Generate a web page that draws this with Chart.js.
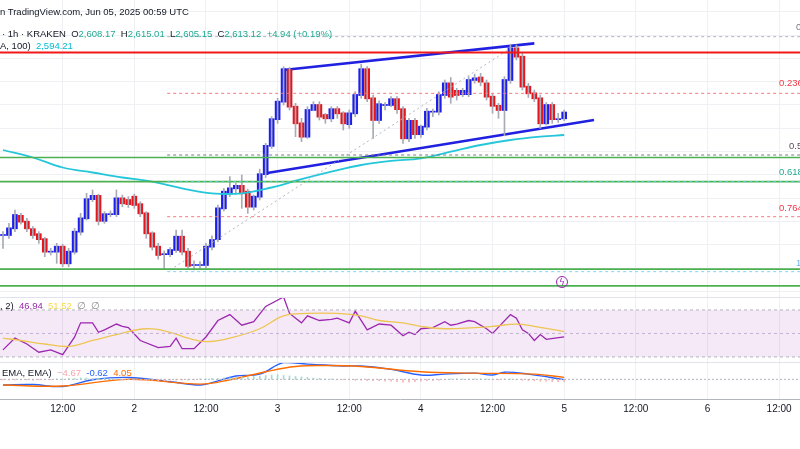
<!DOCTYPE html>
<html><head><meta charset="utf-8">
<script src="https://cdn.jsdelivr.net/npm/chart.js@4.4.1/dist/chart.umd.min.js"></script>
<style>
body{margin:0;background:#fff;width:800px;height:449px;overflow:hidden;position:relative;font-family:"Liberation Sans",Arial,sans-serif;}
.pane{position:absolute;left:0;width:800px;}
.t{position:absolute;white-space:pre;font-size:9.5px;color:#131722;line-height:12px;}
.sep{position:absolute;left:0;width:800px;height:1px;background:#e0e3eb;}
</style></head><body>
<div class="pane" style="top:0;height:297px"><canvas id="main"></canvas></div>
<div class="pane" style="top:297px;height:65px"><canvas id="rsi"></canvas></div>
<div class="pane" style="top:362px;height:60px"><canvas id="macd"></canvas></div>
<div class="sep" style="top:297px"></div>
<div class="sep" style="top:362px"></div>

<div class="t" style="left:0;top:6px">n TradingView.com, Jun 05, 2025 00:59 UTC</div>
<div class="t" style="left:2px;top:28px">· 1h · KRAKEN  O<span style="color:#22ab94">2,608.17</span>  H<span style="color:#22ab94">2,615.01</span>  L<span style="color:#22ab94">2,605.15</span>  C<span style="color:#22ab94">2,613.12</span>  <span style="color:#22ab94">+4.94 (+0.19%)</span></div>
<div class="t" style="left:0;top:40px">A, 100)  <span style="color:#00bcd4">2,594.21</span></div>
<div class="t" style="left:0;top:300px">, 2)  <span style="color:#9c27b0">46.94</span>  <span style="color:#f7d749">51.52</span>  <span style="color:#888">∅  ∅</span></div>
<div class="t" style="left:2px;top:367px">EMA, EMA)  <span style="color:#f7a6ad">−4.67</span>  <span style="color:#2962ff">-0.62</span>  <span style="color:#ff6d00">4.05</span></div>
<div class="t" style="left:796px;top:21px;color:#787b86">0</div>
<div class="t" style="left:779px;top:77px;color:#f23645">0.236</div>
<div class="t" style="left:789px;top:140px;color:#5d4b5f">0.5</div>
<div class="t" style="left:779px;top:166px;color:#22ab94">0.618</div>
<div class="t" style="left:779px;top:202px;color:#f23645">0.764</div>
<div class="t" style="left:796px;top:257px;color:#64b5f6">1</div>
<div style="position:absolute;left:556px;top:276px;width:12px;height:12px;border:1.5px solid #9c27b0;border-radius:50%;box-sizing:border-box;color:#9c27b0;font-size:9px;line-height:10px;text-align:center;font-family:'DejaVu Sans'">ϟ</div>

<script>
// ---------- data ----------
const OPEN=[2466,2466,2474,2489,2482,2473,2467,2461,2446,2446,
2452,2432,2446,2470,2486,2509,2513,2483,2491,2491,
2510,2508,2512,2503,2492,2468,2452,2443,2443,2448,
2464,2446,2430,2430,2430,2452,2461,2498,2516,2522,
2525,2518,2500,2512,2539,2573,2605,2626,2664,2620,
2600,2584,2616,2622,2610,2606,2617,2612,2599,2612,
2634,2665,2630,2604,2622,2622,2629,2617,2582,2603,
2587,2596,2614,2614,2634,2648,2639,2635,2635,2652,
2655,2648,2632,2621,2616,2652,2690,2680,2644,2636,
2630,2600,2622,2605,2606];
const CLOSE=[2466,2474,2490,2482,2474,2466,2461,2446,2446,2452,
2432,2446,2470,2486,2509,2513,2483,2491,2491,2510,
2504,2503,2502,2492,2468,2452,2442,2443,2448,2464,
2446,2429,2430,2430,2452,2460,2498,2518,2522,2525,
2516,2500,2512,2539,2573,2605,2626,2665,2620,2600,
2584,2616,2622,2608,2606,2617,2612,2600,2612,2634,
2665,2630,2604,2623,2622,2629,2617,2582,2603,2587,
2596,2614,2614,2634,2648,2632,2634,2639,2652,2654,
2650,2632,2621,2616,2652,2690,2680,2644,2636,2630,
2600,2622,2605,2605,2613];
const HIGH=[2470,2480,2496,2492,2486,2476,2470,2463,2450,2456,
2455,2450,2474,2492,2516,2520,2515,2494,2495,2520,
2514,2512,2515,2506,2494,2470,2456,2447,2451,2472,
2472,2450,2435,2434,2456,2465,2502,2522,2536,2528,
2538,2521,2514,2545,2576,2608,2630,2668,2667,2624,
2606,2620,2626,2626,2612,2620,2620,2614,2616,2638,
2671,2668,2634,2627,2625,2632,2632,2620,2606,2606,
2598,2618,2617,2638,2652,2655,2642,2642,2656,2659,
2660,2652,2636,2624,2656,2694,2694,2684,2648,2640,
2634,2625,2625,2612,2616];
const LOW=[2450,2462,2470,2479,2470,2462,2456,2440,2442,2432,
2428,2428,2443,2466,2484,2506,2478,2480,2488,2488,
2500,2499,2498,2488,2462,2448,2437,2425,2440,2445,
2442,2425,2424,2425,2426,2448,2458,2495,2512,2515,
2498,2492,2496,2508,2535,2570,2600,2622,2616,2584,
2578,2582,2615,2604,2600,2602,2606,2592,2594,2608,
2630,2626,2582,2600,2616,2620,2612,2576,2578,2582,
2583,2592,2608,2610,2630,2624,2628,2632,2632,2648,
2645,2628,2612,2606,2585,2648,2676,2640,2631,2626,
2594,2598,2600,2601,2603];
const MA_IDX=[0,5,10,15,20,25,30,35,40,45,50,55,60,65,70,75,80,85,90,94];
const MA_VAL=[2568,2559,2547,2541,2535,2530,2522,2516,2516,2523,2533,2542,2550,2555,2558,2566,2574,2580,2584,2586];
const RSI_IDX=[0,2,4,6,8,10,12,13,15,16,17,19,20,21,23,26,28,29,30,32,34,36,38,40,42,44,47,48,50,51,53,55,56,58,59,61,63,65,67,68,69,70,72,74,75,76,78,79,81,82,85,86,87,88,89,90,91,94];
const RSI_VAL=[36,46,41,34,36,32,47,59,59,51,53,58,56,55,44,38,39,46,37,37,47,61,66,57,60,73,81,67,59,65,61,62,63,59,69,53,58,57,48,51,49,54,55,60,57,58,61,60,54,50,66,63,53,50,44,49,45,47];
const RSIMA_IDX=[0,3,7,11,15,19,24,28,31,34,38,43,47,51,56,60,63,67,70,74,79,82,86,89,94];
const RSIMA_VAL=[46,44,41,39,44,49,54,51,46,43,46,54,65,67,67,65,61,59,56,54,55,56,58,56,51.5];
const MACD_IDX=[0,5,10,15,21,28,33,35,39,43,47,51,54,57,60,65,70,74,79,82,84,88,94];
const MACD_VAL=[-12,-11,-15,-1,4,-5,-12,-7,7,11,35,32,30,28,28,21,9,11,13,9,15,11,-0.6];
const SIG_IDX=[0,10,21,33,38,44,49,54,60,70,79,89,94];
const SIG_VAL=[-12,-14,0,-10,-1,16,27,29,27,16,13,11,4];
const HIST=[-1,-1,-1,-1,-1,-2,-1,-1,-1,1,1,2,2,3,3,2,2,2,1,1,
-1,-1,-1,-2,-2,-2,-3,-3,-2,-2,-2,-2,-1,1,1,2,2,3,3,4,
5,5,6,7,8,9,10,8,7,6,5,4,3,2,1,1,-1,-1,-1,-2,
-2,-3,-3,-3,-4,-4,-5,-6,-6,-5,-4,-3,-3,-2,-1,1,1,1,1,1,
1,1,-1,-1,1,1,-1,-2,-3,-3,-4,-4,-5,-5,-5];
const FIB=[2704,2636,2562,2530,2488,2422];
const FIB_COL=['#b2b5be','#f77c80','#787b86','#4dd0e1','#f77c80','#81d4fa'];
const GREEN_LV=[2559,2530,2425,2405];
const RED_LV=2685;
const UPPER=[[47,2664],[89,2696]];
const LOWER=[[44,2540],[99,2604]];
const DIAG=[[28,2424],[85,2690]];
const TIME_POS=[10,22,34,46,58,70,82,94,106,118,130];
const TIME_LBL=['12:00','2','12:00','3','12:00','4','12:00','5','12:00','6','12:00'];
const GRID_PRICE=[2398,2426,2454,2482,2510,2538,2566,2594,2622,2650,2678,2706,2734];

// ---------- helpers ----------
const BLUE='#1c1ef0', RED='#e3161e', GRID='#eef0f4';
const N=OPEN.length;
const pts=(ix,v)=>ix.map((x,i)=>({x,y:v[i]}));
const hline=(y,x0,x1)=>[{x:x0,y},{x:x1,y}];
const xScale=(showTicks)=>({type:'linear',min:-0.5,max:133.5,offset:false,
  afterBuildTicks:s=>{s.ticks=TIME_POS.map(v=>({value:v}));},
  ticks:{display:showTicks,callback:(v)=>TIME_LBL[TIME_POS.indexOf(v)],color:'#131722',font:{size:10,family:'Liberation Sans'},maxRotation:0,padding:4},
  grid:{color:GRID,drawTicks:false,offset:false},border:{display:false},
  afterFit:s=>{s.height=showTicks?23:0;}});
const yHidden=(min,max,gridVals)=>({min,max,
  afterBuildTicks:s=>{s.ticks=(gridVals||[]).map(v=>({value:v}));},
  ticks:{display:false},grid:{color:GRID,drawTicks:false,display:!!gridVals},border:{display:false},
  afterFit:s=>{s.width=0;}});
const lineDs=(data,color,w,dash,extra)=>Object.assign({type:'line',data,borderColor:color,borderWidth:w,borderDash:dash||[],pointRadius:0,fill:false,tension:0},extra||{});
const common={responsive:true,maintainAspectRatio:false,animation:false,
  layout:{padding:0},plugins:{legend:{display:false},tooltip:{enabled:false}}};

// ---------- main ----------
const idx=[...Array(N).keys()];
const colors=idx.map(i=>CLOSE[i]>=OPEN[i]?BLUE:RED);
const mainDs=[];
FIB.forEach((p,i)=>mainDs.push(lineDs(hline(p,27.5,133.5),FIB_COL[i],1,[3,3])));
GREEN_LV.forEach(p=>mainDs.push(lineDs(hline(p,-0.5,133.5),'#4caf50',1.6)));
mainDs.push(lineDs(hline(RED_LV,-0.5,133.5),'#f21818',1.8));
mainDs.push(lineDs(DIAG.map(a=>({x:a[0],y:a[1]})),'#b2b5be',1,[2,3]));
mainDs.push(lineDs(pts(MA_IDX,MA_VAL),'#26c6da',1.8,[],{tension:0.4}));
mainDs.push({type:'bar',grouped:false,data:idx.map(i=>({x:i,y:[LOW[i],HIGH[i]]})),backgroundColor:'#a8abb5',barThickness:1});
mainDs.push({type:'bar',grouped:false,data:idx.map(i=>({x:i,y:[Math.min(OPEN[i],CLOSE[i])-0.6,Math.max(OPEN[i],CLOSE[i])+0.6]})),backgroundColor:colors,barThickness:5});
mainDs.push(lineDs(UPPER.map(a=>({x:a[0],y:a[1]})),'#2020e0',2.6));
mainDs.push(lineDs(LOWER.map(a=>({x:a[0],y:a[1]})),'#2020e0',2.6));
new Chart(document.getElementById('main'),{type:'bar',data:{datasets:mainDs},
  options:Object.assign({},common,{scales:{x:xScale(false),y:yHidden(2391.6,2748,GRID_PRICE)}})});

// ---------- RSI ----------
const rsiDs=[
  lineDs(hline(70,-0.5,133.5),'#b2b5be',1,[3,3]),
  lineDs(hline(30,-0.5,133.5),'#b2b5be',1,[3,3],{fill:{target:0},backgroundColor:'rgba(156,39,176,0.10)'}),
  lineDs(hline(50,-0.5,133.5),'#c8c2d6',1,[3,3]),
  lineDs(pts(RSIMA_IDX,RSIMA_VAL),'#f7d749',1.3,[],{tension:0.4}),
  lineDs(pts(RSI_IDX,RSI_VAL),'#9c27b0',1.3)
];
new Chart(document.getElementById('rsi'),{type:'line',data:{datasets:rsiDs},
  options:Object.assign({},common,{scales:{x:xScale(false),y:yHidden(25.7,81)}})});

// ---------- MACD ----------
const macdDs=[
  lineDs(hline(0,-0.5,133.5),'#b2b5be',1,[2,2]),
  {type:'bar',grouped:false,data:idx.map(i=>({x:i,y:HIST[i]})),backgroundColor:idx.map(i=>HIST[i]>=0?'#a5dccf':'#f7b5b9'),barThickness:1},
  lineDs(pts(SIG_IDX,SIG_VAL),'#ff6d00',1.4,[],{tension:0.4}),
  lineDs(pts(MACD_IDX,MACD_VAL),'#2962ff',1.4,[],{tension:0.4})
];
new Chart(document.getElementById('macd'),{type:'bar',data:{datasets:macdDs},
  options:Object.assign({},common,{scales:{x:Object.assign(xScale(true),{border:{display:true,color:'#b2b5be'}}),y:yHidden(-41.3,36.4)}})});
</script>
</body></html>
